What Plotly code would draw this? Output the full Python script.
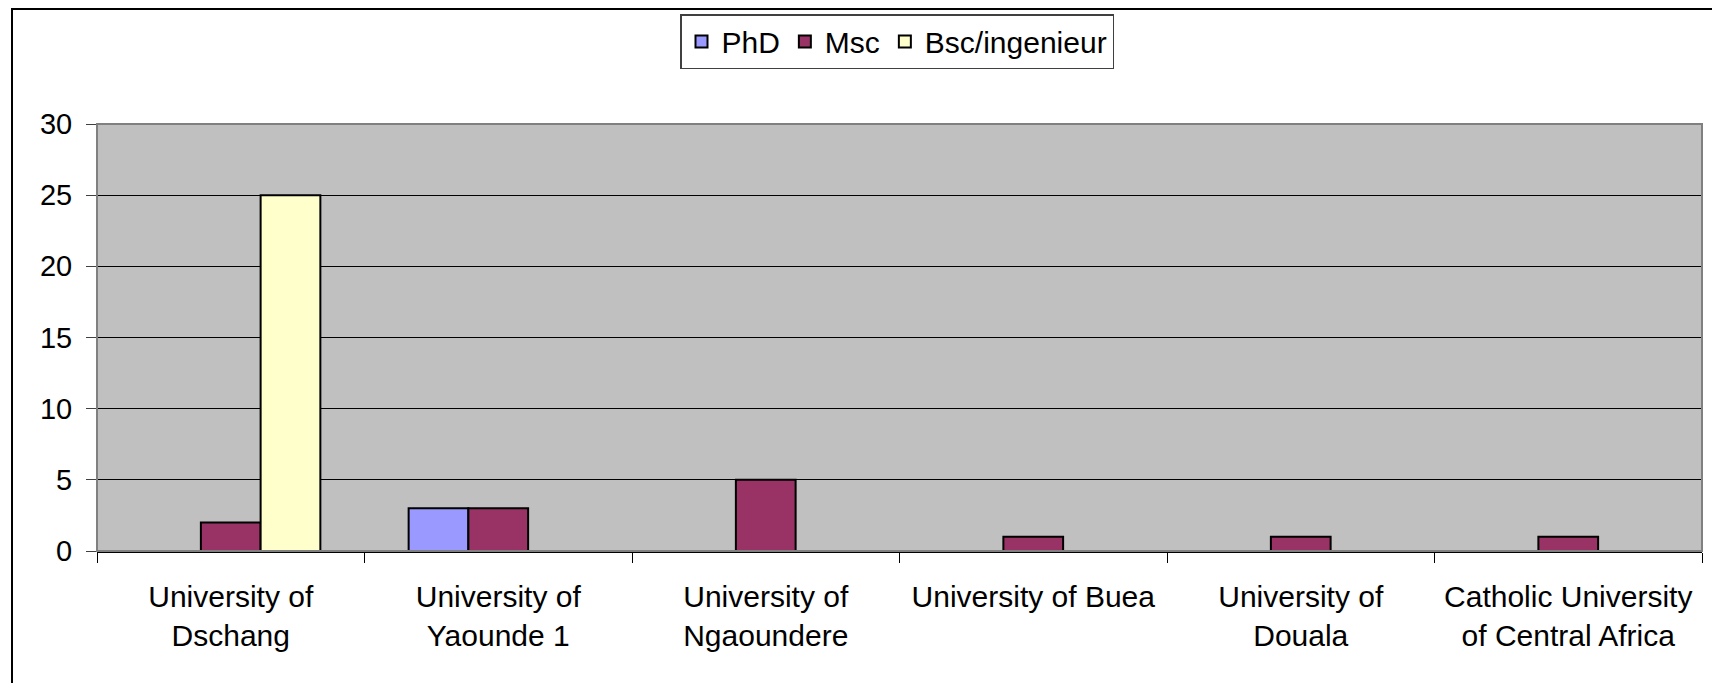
import plotly.graph_objects as go

categories = [
    "University of<br>Dschang",
    "University of<br>Yaounde 1",
    "University of<br>Ngaoundere",
    "University of Buea",
    "University of<br>Douala",
    "Catholic University<br>of Central Africa",
]
phd = [0, 3, 0, 0, 0, 0]
msc = [2, 3, 5, 1, 1, 1]
bsc = [25, 0, 0, 0, 0, 0]
series_names = ["PhD", "Msc", "Bsc/ingenieur"]
series_colors = ["#9999FF", "#993366", "#FFFFCC"]
y_ticks = [0, 5, 10, 15, 20, 25, 30]

FONT = "Liberation Sans, Arial, sans-serif"

def nz(vals):
    return [v if v != 0 else None for v in vals]

fig = go.Figure()
for name, vals, col in zip(series_names, [phd, msc, bsc], series_colors):
    fig.add_trace(go.Bar(
        x=categories, y=nz(vals), name=name,
        marker=dict(color=col, line=dict(color="#000000", width=2)),
    ))

# page body has an 8px margin; work in figure coordinates
OFF = 8
W, H = 1720 - OFF, 683 - OFF
L, T = 97 - OFF, 124 - OFF
plot_right, plot_bottom = 1702 - OFF, 551 - OFF
R, B = W - plot_right, H - plot_bottom
pw, ph = W - L - R, H - T - B

def px(x):
    return (x - OFF - L) / pw

def py(y):
    return (H - B - (y - OFF)) / ph

fig.update_layout(
    width=W, height=H,
    margin=dict(l=L, r=R, t=T, b=B, autoexpand=False),
    paper_bgcolor="white",
    plot_bgcolor="#C0C0C0",
    barmode="group",
    bargap=0.33,
    bargroupgap=0,
    font=dict(family=FONT, size=30, color="#000000"),
    legend=dict(
        orientation="h",
        x=px(897), xanchor="center",
        y=py(14), yanchor="top",
        bgcolor="white",
        bordercolor="#404040", borderwidth=1.5,
        font=dict(size=30, family=FONT),
        itemwidth=30,
        traceorder="normal",
    ),
    showlegend=True,
    shapes=[
        dict(type="rect", xref="paper", yref="paper",
             x0=0, x1=1, y0=0, y1=1,
             line=dict(color="#808080", width=2), layer="above"),
        dict(type="rect", xref="paper", yref="paper",
             x0=px(12), x1=px(1760), y0=py(720), y1=py(9),
             line=dict(color="#000000", width=2), fillcolor="rgba(0,0,0,0)"),
    ],
)

fig.update_xaxes(
    type="category",
    automargin=False,
    tickson="boundaries",
    ticks="outside", ticklen=10, tickwidth=1, tickcolor="#000000",
    showline=True, linecolor="#000000", linewidth=2,
    showgrid=False,
    tickfont=dict(size=30, family=FONT),
    ticklabelstandoff=18,
)
fig.update_yaxes(
    automargin=False,
    range=[0, 30],
    tickvals=y_ticks,
    ticks="outside", ticklen=10, tickwidth=1, tickcolor="#404040",
    showline=False,
    showgrid=True, gridcolor="#000000", gridwidth=1,
    zeroline=False,
    tickfont=dict(size=29, family=FONT),
    ticklabelstandoff=8,
)

fig.write_html("out.html")
